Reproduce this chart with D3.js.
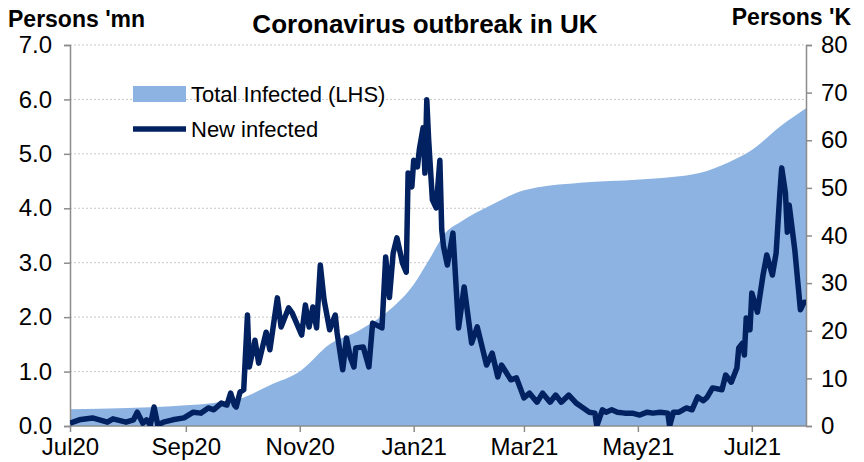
<!DOCTYPE html>
<html>
<head>
<meta charset="utf-8">
<script src="https://cdn.jsdelivr.net/npm/d3@7"></script>
<style>
  body { margin: 0; background: #fff; }
  svg text { font-family: "Liberation Sans", Arial, sans-serif; fill: #000; }
</style>
</head>
<body>
<div id="chart"></div>
<script>
// total infected, millions (LHS)
const totalDates = ["2020-07-01","2020-08-01","2020-09-01","2020-09-15","2020-09-30","2020-10-16","2020-11-01",
  "2020-11-17","2020-12-03","2020-12-19","2021-01-01","2021-01-10","2021-01-18","2021-01-26","2021-02-11",
  "2021-03-01","2021-03-31","2021-05-02","2021-06-03","2021-06-19","2021-07-01","2021-07-16","2021-07-30"];
const totalValues = [0.31,0.33,0.38,0.42,0.50,0.75,1.0,1.5,1.76,2.13,2.6,3.1,3.55,3.75,4.05,4.33,4.47,4.53,4.65,4.85,5.07,5.5,5.84];

// new infected per day, thousands (RHS)
const newDates = ["2020-07-01","2020-07-06","2020-07-13","2020-07-21","2020-07-24","2020-07-31","2020-08-04","2020-08-06",
  "2020-08-09","2020-08-11","2020-08-13","2020-08-15","2020-08-17","2020-08-20","2020-08-25","2020-08-31","2020-09-05",
  "2020-09-09","2020-09-13","2020-09-16","2020-09-20","2020-09-23","2020-09-25","2020-09-27","2020-09-28","2020-09-30",
  "2020-10-02","2020-10-04","2020-10-05","2020-10-08","2020-10-10","2020-10-14","2020-10-16","2020-10-20","2020-10-22",
  "2020-10-26","2020-10-28","2020-11-02","2020-11-04","2020-11-06","2020-11-08","2020-11-10","2020-11-12","2020-11-14",
  "2020-11-17","2020-11-20","2020-11-21","2020-11-24","2020-11-26","2020-11-28","2020-11-30","2020-12-01","2020-12-05",
  "2020-12-08","2020-12-10","2020-12-15","2020-12-17","2020-12-19","2020-12-21","2020-12-23","2020-12-26","2020-12-28",
  "2020-12-29","2020-12-31","2021-01-01","2021-01-03","2021-01-04","2021-01-06","2021-01-07","2021-01-08","2021-01-09",
  "2021-01-11","2021-01-13","2021-01-15","2021-01-16","2021-01-17","2021-01-19","2021-01-22","2021-01-25","2021-01-28",
  "2021-02-01","2021-02-04","2021-02-09","2021-02-12","2021-02-15","2021-02-17","2021-02-22","2021-02-25","2021-03-01",
  "2021-03-04","2021-03-08","2021-03-11","2021-03-15","2021-03-18","2021-03-21","2021-03-25","2021-03-29","2021-04-01",
  "2021-04-05","2021-04-08","2021-04-09","2021-04-12","2021-04-14","2021-04-17","2021-04-20","2021-04-24","2021-04-28",
  "2021-05-02","2021-05-06","2021-05-09","2021-05-13","2021-05-17","2021-05-18","2021-05-20","2021-05-23","2021-05-27",
  "2021-05-30","2021-06-02","2021-06-05","2021-06-07","2021-06-10","2021-06-15","2021-06-17","2021-06-20","2021-06-23",
  "2021-06-24","2021-06-26","2021-06-27","2021-06-28","2021-06-30","2021-07-01","2021-07-04","2021-07-07","2021-07-09",
  "2021-07-12","2021-07-14","2021-07-16","2021-07-17","2021-07-19","2021-07-20","2021-07-21","2021-07-24","2021-07-27",
  "2021-07-29","2021-07-30"];
const newValues = [0.6,1.3,1.7,0.8,1.5,0.8,1.3,2.9,
  0.6,1.3,0.2,4.0,0.2,0.8,1.3,1.7,2.9,
  2.7,3.8,3.4,4.8,4.4,6.9,4.4,4.0,7.1,
  7.6,23.3,12.4,18.0,13.2,19.7,16.0,26.9,20.8,
  24.8,23.7,19.1,25.4,20.8,25.0,20.6,33.8,26.5,
  20.2,23.3,19.5,11.8,18.5,14.5,12.4,16.4,16.6,
  12.4,21.6,20.6,35.5,27.0,36.3,39.5,34.2,32.3,
  53.1,50.2,55.8,54.4,58.0,62.6,53.1,68.5,60.0,
  47.5,45.8,55.8,41.2,37.6,33.8,40.5,20.6,29.2,
  17.4,20.8,12.8,15.3,10.3,12.8,9.7,10.1,5.9,
  6.9,5.0,6.9,5.0,6.5,5.0,6.5,4.8,4.0,
  2.9,2.7,0,3.4,2.9,3.4,2.9,2.7,2.7,
  2.3,2.9,2.7,2.9,2.7,0,2.9,2.9,3.8,
  3.4,6.1,5.3,6.0,8.0,7.6,10.7,9.2,12.2,
  16.4,17.4,14.9,22.7,20.2,27.9,23.9,31.7,35.9,
  31.7,36.3,48.9,54.2,48.9,40.7,46.4,37.0,24.4,
  26.0,26.0];

const leftTicks = [0,1,2,3,4,5,6,7];
const rightTicks = [0,10,20,30,40,50,60,70,80];
const monthTicks = ["2020-07-01","2020-09-01","2020-11-01","2021-01-01","2021-03-01","2021-05-01","2021-07-01"];

const parse = d3.timeParse("%Y-%m-%d");
const totalData = totalDates.map((d, i) => ({date: parse(d), v: totalValues[i]}));
const newData = newDates.map((d, i) => ({date: parse(d), v: newValues[i]}));

const width = 864, height = 462;
const margin = {top: 45, right: 58, bottom: 36, left: 70};

const svg = d3.select("#chart").append("svg")
  .attr("width", width).attr("height", height);

const x = d3.scaleTime()
  .domain([parse("2020-07-01"), parse("2021-07-30")])
  .range([margin.left, width - margin.right]);
const yL = d3.scaleLinear().domain([0, 7]).range([height - margin.bottom, margin.top]);
const yR = d3.scaleLinear().domain([0, 80]).range([height - margin.bottom, margin.top]);

svg.append("defs").append("clipPath").attr("id", "plot")
  .append("rect")
  .attr("x", margin.left).attr("y", margin.top)
  .attr("width", width - margin.left - margin.right)
  .attr("height", height - margin.top - margin.bottom);

// gridlines
svg.append("g")
  .selectAll("line")
  .data(leftTicks.slice(1))
  .enter().append("line")
  .attr("x1", margin.left).attr("x2", width - margin.right)
  .attr("y1", d => yL(d)).attr("y2", d => yL(d))
  .attr("stroke", "#c8c8c8")
  .attr("stroke-dasharray", "2,2");

// area
svg.append("path")
  .datum(totalData)
  .attr("fill", "#8db3e2")
  .attr("d", d3.area().curve(d3.curveMonotoneX)
    .x(d => x(d.date)).y0(yL(0)).y1(d => yL(d.v)));

// axes
const axisColor = "#8c8c8c";
const gL = svg.append("g")
  .attr("transform", `translate(${margin.left},0)`)
  .call(d3.axisLeft(yL).tickValues(leftTicks).tickFormat(d3.format(".1f")).tickSize(6).tickPadding(12));
const gR = svg.append("g")
  .attr("transform", `translate(${width - margin.right},0)`)
  .call(d3.axisRight(yR).tickValues(rightTicks).tickSize(6).tickPadding(9));
const gX = svg.append("g")
  .attr("transform", `translate(0,${height - margin.bottom})`)
  .call(d3.axisBottom(x).tickValues(monthTicks.map(parse)).tickFormat(d3.timeFormat("%b%y")).tickSize(6).tickPadding(6));

[gL, gR, gX].forEach(g => {
  g.select(".domain").attr("stroke", axisColor).attr("stroke-width", 1.5);
  g.selectAll(".tick line").attr("stroke", axisColor).attr("stroke-width", 1.5);
  g.selectAll("text").style("font-size", "24px").attr("fill", "#000");
});
gX.select(".domain").attr("d", `M${margin.left},0H${width - margin.right}`);

// new infected line
svg.append("path")
  .datum(newData)
  .attr("clip-path", "url(#plot)")
  .attr("fill", "none")
  .attr("stroke", "#022160")
  .attr("stroke-width", 5.5)
  .attr("stroke-linejoin", "round")
  .attr("d", d3.line().x(d => x(d.date)).y(d => yR(d.v)));

// titles
svg.append("text").attr("x", 425).attr("y", 33).attr("text-anchor", "middle")
  .style("font-size", "26px").style("font-weight", "bold")
  .text("Coronavirus outbreak in UK");
svg.append("text").attr("x", 8).attr("y", 27)
  .style("font-size", "23px").style("font-weight", "bold")
  .text("Persons 'mn");
svg.append("text").attr("x", 851).attr("y", 25).attr("text-anchor", "end")
  .style("font-size", "23px").style("font-weight", "bold")
  .text("Persons 'K");

// legend
const legend = svg.append("g");
legend.append("rect").attr("x", 133).attr("y", 86).attr("width", 53).attr("height", 16).attr("fill", "#8db3e2");
legend.append("text").attr("x", 191).attr("y", 102).style("font-size", "22px").text("Total Infected (LHS)");
legend.append("line").attr("x1", 133).attr("x2", 186).attr("y1", 129).attr("y2", 129)
  .attr("stroke", "#022160").attr("stroke-width", 5.5);
legend.append("text").attr("x", 191).attr("y", 137).style("font-size", "22px").text("New infected");
</script>
</body>
</html>
